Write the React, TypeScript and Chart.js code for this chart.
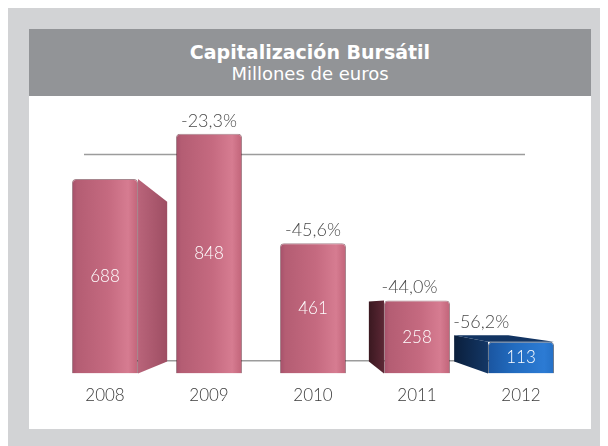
import React, { useEffect, useRef } from "react";
import { Chart, registerables } from "chart.js";

Chart.register(...registerables);

const YEARS = ["2008", "2009", "2010", "2011", "2012"];
const VALUES = [688, 848, 461, 258, 113];
const CHANGES = ["", "-23,3%", "-45,6%", "-44,0%", "-56,2%"];
const Y_MAX = 900;
const GRID_VALUES = [0, 900];
const BAR_THEME = ["pink", "pink", "pink", "pink", "blue"];

const FONT = "Lato, 'Open Sans', sans-serif";
const TITLE_FONT = "'DejaVu Sans', sans-serif";
const BAR_PCT = 0.635;
const VP_FX = 0.475;
const VP_FY = 0.735;
const DEPTH = 0.18;
const WALL_DEPTH = 0.19;
const MIN_SIDE = 12;

const THEMES: Record<string, any> = {
  pink: {
    front: [
      [0, "#a5506a"],
      [0.08, "#b45d73"],
      [0.55, "#c56a80"],
      [0.85, "#d67c91"],
      [1, "#c16479"],
    ],
    border: "rgba(95,35,50,0.55)",
    right: ["#b9647a", "#9e4e63"],
    left: ["#3a1820", "#5c2735"],
    top: "#7a3446",
  },
  blue: {
    front: [
      [0, "#1a55a0"],
      [0.4, "#226cc0"],
      [0.85, "#2c7bd4"],
      [1, "#2470c6"],
    ],
    border: "rgba(10,35,70,0.6)",
    right: ["#1d5aa5", "#14447f"],
    left: ["#0b1f3c", "#133766"],
    top: "#123462",
  },
};

function geom(chart: any, i: number) {
  const ca = chart.chartArea;
  const el = chart.getDatasetMeta(0).data[i];
  const { x, y, base, width } = el.getProps(["x", "y", "base", "width"], true);
  const L = x - width / 2, R = x + width / 2, T = y, B = base;
  const vx = ca.left + VP_FX * (ca.right - ca.left);
  const vy = ca.top + VP_FY * (ca.bottom - ca.top);
  const pr = (px: number, py: number) => [px + DEPTH * (vx - px), py + DEPTH * (vy - py)];
  const hasLeft = L > vx && DEPTH * (L - vx) >= MIN_SIDE;
  const hasRight = R < vx && DEPTH * (vx - R) >= MIN_SIDE;
  const hasTop = T > vy + 2;
  return { L, R, T, B, x, vx, vy, pr, hasLeft, hasRight, hasTop };
}

const threeD = {
  id: "threeD",
  beforeDatasetsDraw(chart: any) {
    const { ctx, chartArea: ca, scales } = chart;
    const yS = scales.y;
    const vy = ca.top + VP_FY * (ca.bottom - ca.top);
    ctx.save();
    ctx.strokeStyle = "#9c9c9c";
    ctx.lineWidth = 1.6;
    for (const v of GRID_VALUES) {
      const py = yS.getPixelForValue(v);
      const wy = py + WALL_DEPTH * (vy - py);
      ctx.beginPath();
      ctx.moveTo(ca.left + 31, wy);
      ctx.lineTo(ca.right - 48, wy);
      ctx.stroke();
    }
    VALUES.forEach((_, i) => {
      const th = THEMES[BAR_THEME[i]];
      const { L, R, T, B, pr, hasLeft, hasRight, hasTop } = geom(chart, i);
      const poly = (pts: number[][], fill: any) => {
        ctx.beginPath();
        ctx.moveTo(pts[0][0], pts[0][1]);
        for (let k = 1; k < pts.length; k++) ctx.lineTo(pts[k][0], pts[k][1]);
        ctx.closePath();
        ctx.fillStyle = fill;
        ctx.fill();
      };
      if (hasRight) {
        const a = pr(R, T), b = pr(R, B);
        const g = ctx.createLinearGradient(R, 0, a[0], 0);
        g.addColorStop(0, th.right[0]);
        g.addColorStop(1, th.right[1]);
        poly([[R, T], a, b, [R, B]], g);
      }
      if (hasLeft) {
        const a = pr(L, T), b = pr(L, B);
        const g = ctx.createLinearGradient(a[0], 0, L, 0);
        g.addColorStop(0, th.left[0]);
        g.addColorStop(1, th.left[1]);
        poly([[L, T], a, b, [L, B]], g);
      }
      if (hasTop) {
        poly([[L, T], [R, T], pr(R, T), pr(L, T)], th.top);
      }
    });
    ctx.restore();
  },
  afterDatasetsDraw(chart: any) {
    const { ctx } = chart;
    ctx.save();
    ctx.textAlign = "center";
    ctx.textBaseline = "middle";
    VALUES.forEach((v, i) => {
      const { L, R, T, B, x, pr, hasLeft, hasRight, hasTop } = geom(chart, i);
      ctx.fillStyle = "#ffffff";
      ctx.font = `300 17px ${FONT}`;
      ctx.fillText(String(v), x, (T + B) / 2);
      if (!CHANGES[i]) return;
      let minX = L, maxX = R, top = T;
      if (hasLeft) minX = pr(L, T)[0];
      if (hasRight) maxX = pr(R, T)[0];
      let lx = (minX + maxX) / 2;
      if (hasTop) {
        const a = pr(L, T), b = pr(R, T);
        top = a[1];
        lx = (a[0] + b[0]) / 2;
      }
      ctx.fillStyle = "#4a4a4a";
      ctx.font = `300 18px ${FONT}`;
      ctx.fillText(CHANGES[i], lx, top - 13);
    });
    ctx.restore();
  },
};

function frontColor(c: any) {
  const chart = c.chart;
  const i = c.dataIndex;
  const th = THEMES[BAR_THEME[i]];
  const xs = chart.scales && chart.scales.x;
  if (!xs || !chart.chartArea) return th.front[2][1];
  const cx = xs.getPixelForValue(i);
  const w = (xs.width / YEARS.length) * BAR_PCT;
  const g = chart.ctx.createLinearGradient(cx - w / 2, 0, cx + w / 2, 0);
  th.front.forEach((s: any) => g.addColorStop(s[0], s[1]));
  return g;
}

export default function App() {
  const ref = useRef<HTMLCanvasElement>(null);
  useEffect(() => {
    if (!ref.current) return;
    const chart = new Chart(ref.current, {
      type: "bar",
      data: {
        labels: YEARS,
        datasets: [
          {
            data: VALUES,
            backgroundColor: frontColor,
            borderColor: (c: any) => THEMES[BAR_THEME[c.dataIndex]].border,
            borderWidth: 1,
            borderRadius: 4,
            borderSkipped: "start",
            categoryPercentage: 1,
            barPercentage: BAR_PCT,
          },
        ],
      },
      options: {
        animation: false,
        responsive: true,
        maintainAspectRatio: false,
        layout: { padding: { top: 23, bottom: 11, left: 24, right: 18 } },
        plugins: { legend: { display: false }, tooltip: { enabled: false } },
        scales: {
          x: {
            grid: { display: false, drawTicks: false },
            border: { display: false },
            ticks: { color: "#3a3a3a", font: { family: FONT, size: 17, weight: "300" as any }, padding: 12 },
          },
          y: { display: false, min: 0, max: Y_MAX },
        },
      },
      plugins: [threeD],
    });
    return () => chart.destroy();
  }, []);

  return (
    <div
      style={{
        position: "relative",
        width: 600,
        height: 438,
        background: "#d2d3d5",
      }}
    >
      <div
        style={{
          position: "absolute",
          left: 21,
          top: 21,
          width: 562,
          height: 67,
          background: "#929497",
          color: "#ffffff",
          textAlign: "center",
          fontFamily: TITLE_FONT,
          boxSizing: "border-box",
          paddingTop: 12,
        }}
      >
        <div style={{ fontWeight: 700, fontSize: 19, lineHeight: "22px" }}>Capitalización Bursátil</div>
        <div style={{ fontWeight: 400, fontSize: 18, lineHeight: "22px" }}>Millones de euros</div>
      </div>
      <div
        style={{
          position: "absolute",
          left: 21,
          top: 88,
          width: 562,
          height: 333,
          background: "#ffffff",
        }}
      >
        <canvas ref={ref} />
      </div>
    </div>
  );
}
